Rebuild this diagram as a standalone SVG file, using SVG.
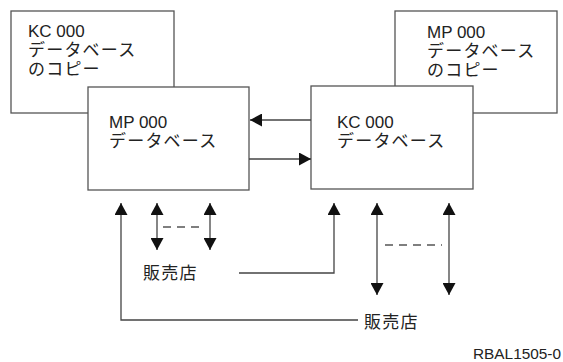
<svg xmlns="http://www.w3.org/2000/svg" width="563" height="362" viewBox="0 0 563 362">
<style>
.box{fill:#fff;stroke:#555;stroke-width:1.3}
.t{font-family:"Liberation Sans","Noto Sans CJK JP",sans-serif;font-size:17px;fill:#222}
.j{letter-spacing:1.2px}
.ln{fill:none;stroke:#444;stroke-width:1.3}
.dash{fill:none;stroke:#555;stroke-width:1.3;stroke-dasharray:8,6}
</style>
<defs>
<marker id="ah" viewBox="0 0 12 13" refX="12" refY="6.5" markerWidth="12" markerHeight="13" markerUnits="userSpaceOnUse" orient="auto-start-reverse">
<path d="M0,0 L12,6.5 L0,13 z" fill="#111"/>
</marker>
</defs>
<g id="kc-copy">
<rect class="box" x="11" y="11" width="163" height="102"/>
<text class="t" x="28" y="37">KC 000</text>
<text class="t j" x="28" y="56">データベース</text>
<text class="t j" x="28" y="75">のコピー</text>
</g>
<g id="mp-main">
<rect class="box" x="88" y="87" width="161" height="103"/>
<text class="t" x="109" y="128">MP 000</text>
<text class="t j" x="109" y="147">データベース</text>
</g>
<g id="mp-copy">
<rect class="box" x="395" y="11" width="162" height="102"/>
<text class="t" x="427" y="38">MP 000</text>
<text class="t j" x="427" y="57">データベース</text>
<text class="t j" x="427" y="76">のコピー</text>
</g>
<g id="kc-main">
<rect class="box" x="311" y="86" width="162" height="103"/>
<text class="t" x="337" y="128">KC 000</text>
<text class="t j" x="337" y="147">データベース</text>
</g>
<g id="store1">
<text class="t j" x="143" y="279">販売店</text>
</g>
<g id="store2">
<text class="t j" x="364" y="328">販売店</text>
</g>
<g id="connectors">
<line class="ln" x1="311" y1="120" x2="250" y2="120" marker-end="url(#ah)"/>
<line class="ln" x1="249" y1="159" x2="311" y2="159" marker-end="url(#ah)"/>
<path class="ln" d="M358,320 H121 V203" marker-end="url(#ah)"/>
<line class="ln" x1="157" y1="203" x2="157" y2="250" marker-start="url(#ah)" marker-end="url(#ah)"/>
<line class="ln" x1="210" y1="203" x2="210" y2="250" marker-start="url(#ah)" marker-end="url(#ah)"/>
<line class="dash" x1="163" y1="227" x2="202" y2="227"/>
<path class="ln" d="M239,273 H334 V203" marker-end="url(#ah)"/>
<line class="ln" x1="377" y1="203" x2="377" y2="295" marker-start="url(#ah)" marker-end="url(#ah)"/>
<line class="ln" x1="449" y1="203" x2="449" y2="295" marker-start="url(#ah)" marker-end="url(#ah)"/>
<line class="dash" x1="385" y1="245" x2="442" y2="245"/>
</g>
<text class="t" x="473" y="359" style="font-size:14px" textLength="88" lengthAdjust="spacingAndGlyphs">RBAL1505-0</text>
</svg>
